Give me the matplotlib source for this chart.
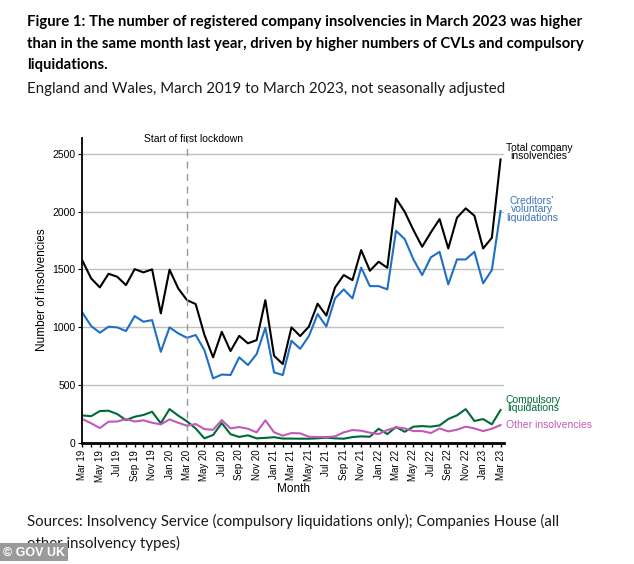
import matplotlib.pyplot as plt

# Monthly counts, March 2019 to March 2023
month_labels = ["Mar 19", "May 19", "Jul 19", "Sep 19", "Nov 19", "Jan 20", "Mar 20",
                "May 20", "Jul 20", "Sep 20", "Nov 20", "Jan 21", "Mar 21", "May 21",
                "Jul 21", "Sep 21", "Nov 21", "Jan 22", "Mar 22", "May 22", "Jul 22",
                "Sep 22", "Nov 22", "Jan 23", "Mar 23"]

total = [1575, 1422, 1344, 1462, 1436, 1364, 1502, 1474, 1500, 1119, 1497, 1335, 1234,
         1200, 935, 739, 960, 793, 925, 860, 888, 1234, 752, 681, 998, 923, 1005, 1203,
         1100, 1344, 1451, 1407, 1667, 1488, 1566, 1514, 2114, 1998, 1840, 1696, 1820,
         1935, 1681, 1947, 2028, 1964, 1681, 1773, 2451]

cvl = [1125, 1010, 952, 1004, 998, 966, 1096, 1047, 1061, 787, 998, 946, 908,
       932, 802, 557, 590, 586, 739, 672, 767, 995, 609, 586, 882, 813, 923, 1113,
       1006, 1249, 1327, 1249, 1515, 1355, 1355, 1327, 1834, 1762, 1586, 1451, 1604,
       1652, 1370, 1586, 1586, 1652, 1379, 1494, 2004]

compulsory = [236, 230, 274, 277, 248, 196, 225, 240, 268, 168, 291, 235, 185,
              124, 38, 67, 170, 74, 50, 64, 38, 42, 48, 36, 36, 35, 35, 38,
              44, 38, 35, 49, 55, 52, 121, 75, 136, 95, 139, 144, 139,
              150, 205, 237, 291, 188, 205, 159, 283]

other = [205, 168, 127, 182, 184, 205, 184, 194, 173, 159, 202, 173, 147,
         162, 118, 112, 196, 124, 136, 121, 90, 194, 90, 61, 84, 81, 52, 49,
         49, 55, 90, 110, 104, 87, 75, 110, 133, 124, 101, 101, 84,
         124, 98, 113, 139, 124, 101, 121, 153]

lockdown_idx = 12

black = "#000000"
blue = "#1f6fc5"
green = "#006a35"
pink = "#c159b8"

fig = plt.figure(figsize=(6.34, 5.64), dpi=100)
ax = fig.add_axes([0.130, 0.215, 0.665, 0.541])

x = list(range(len(total)))
ax.plot(x, total, color=black, lw=1.5)
ax.plot(x, cvl, color=blue, lw=1.5)
ax.plot(x, compulsory, color=green, lw=1.5)
ax.plot(x, other, color=pink, lw=1.5)

ax.axvline(lockdown_idx, color="#999999", ls=(0, (5, 4)), lw=1)
ax.text(lockdown_idx + 0.7, 2625, "Start of first lockdown", ha="center", va="center",
        fontsize=7.5, family="Liberation Sans")

ax.set_xlim(0, 48.4)
ax.set_ylim(0, 2640)
ax.set_yticks([0, 500, 1000, 1500, 2000, 2500])
ax.set_xticks(range(0, 49, 2))
ax.set_xticklabels(month_labels, rotation=90, fontsize=7, family="Liberation Sans")
ax.set_xticks(range(0, 49), minor=True)
ax.tick_params(axis="x", which="both", length=3, width=1, pad=2)
ax.tick_params(axis="y", length=3, labelsize=7.5, pad=2)
for lbl in ax.get_yticklabels():
    lbl.set_family("Liberation Sans")
ax.grid(axis="y", color="#c0c0c0", lw=1)
ax.set_axisbelow(True)

for s in ["top", "right"]:
    ax.spines[s].set_visible(False)
ax.spines["left"].set_linewidth(1.3)
ax.spines["bottom"].set_linewidth(2)

ax.set_ylabel("Number of insolvencies", fontsize=8.5, family="Liberation Sans", labelpad=3)
ax.set_xlabel("Month", fontsize=8.5, family="Liberation Sans", labelpad=1)

# series labels at the right end
lab = dict(ha="left", va="center", multialignment="center", linespacing=0.8,
           fontsize=7.5, family="Liberation Sans", clip_on=False)
ax.text(48.6, 2515, "Total company\ninsolvencies", color=black, **lab)
ax.text(48.6, 2020, "Creditors'\nvoluntary\nliquidations", color="#3b73b9", **lab)
ax.text(48.6, 335, "Compulsory\nliquidations", color=green, **lab)
ax.text(48.6, 153, "Other insolvencies", color=pink, **lab)

title_kw = dict(fontsize=10.7, fontweight="bold", family="Lato", va="center")
fig.text(0.043, 0.961, "Figure 1: The number of registered company insolvencies in March 2023 was higher",
         **title_kw)
fig.text(0.043, 0.922, "than in the same month last year, driven by higher numbers of CVLs and compulsory",
         **title_kw)
fig.text(0.043, 0.884, "liquidations.", **title_kw)

body_kw = dict(fontsize=10.8, family="Lato", va="center", color="#1a1a1a")
fig.text(0.043, 0.843, "England and Wales, March 2019 to March 2023, not seasonally adjusted", **body_kw)
fig.text(0.043, 0.076, "Sources: Insolvency Service (compulsory liquidations only); Companies House (all",
         **body_kw)
fig.text(0.043, 0.037, "other insolvency types)", **body_kw)

fig.text(0.004, 0.010, "\u00a9 GOV UK", fontsize=9, fontweight="bold", color="white",
         family="Liberation Sans", va="bottom", zorder=5,
         bbox=dict(boxstyle="square,pad=0.25", fc="#9a9a9a", ec="none"))

fig.savefig("out.png", dpi=100)
